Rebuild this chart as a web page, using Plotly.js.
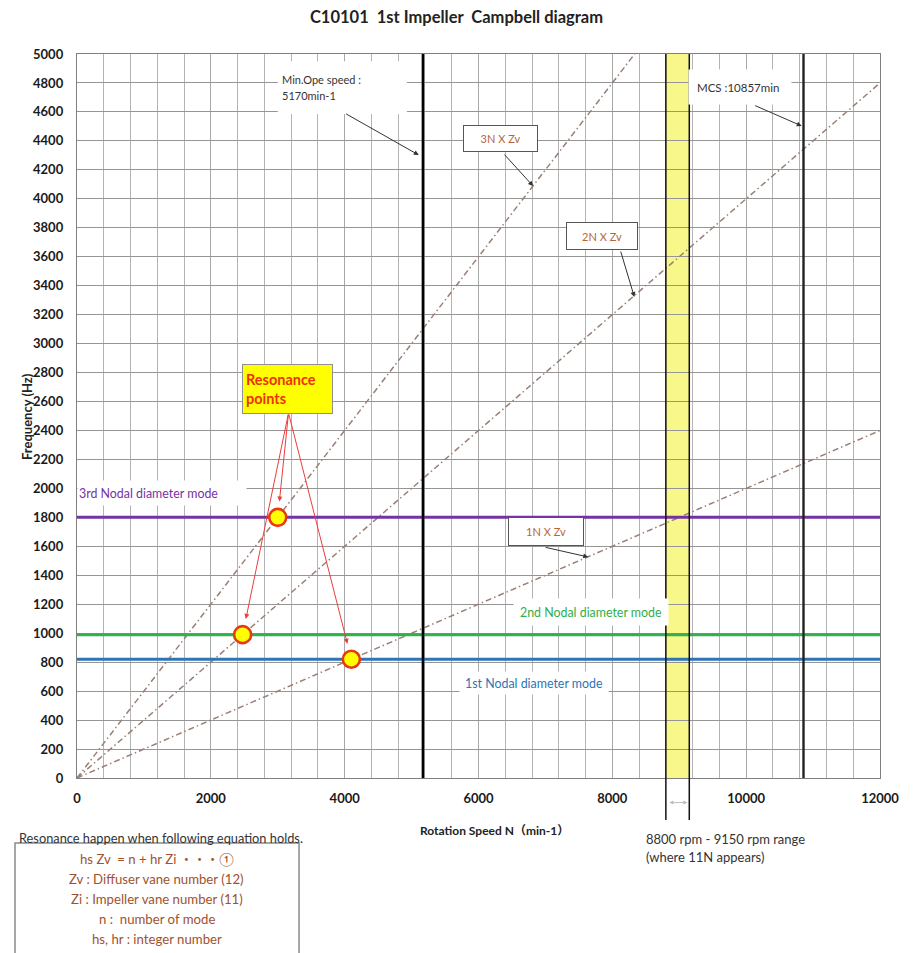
<!DOCTYPE html>
<html>
<head>
<meta charset="utf-8">
<script src="https://cdn.plot.ly/plotly-3.0.1.min.js"></script>
<style>
  html, body { margin: 0; padding: 0; background: #ffffff; }
  #chart { width: 913px; height: 953px; }
</style>
</head>
<body>
<div id="chart"></div>
<script>
// Campbell diagram of the first impeller: excitation orders vs. nodal diameter modes

// Rotation speed axis (min-1)
const speedRange = [0, 12000];
const speedTicks = [0, 2000, 4000, 6000, 8000, 10000, 12000];
const speedTickText = ['0', '2000', '4000', '6000', '8000', '10000', '12000'];
const freqRange = [0, 5000];

// Excitation order lines (frequency in Hz at the two end speeds)
const orderNames = ['3N X Zv', '2N X Zv', '1N X Zv'];
const orderSpeed = [0, 12000];
const order3Freq = [0, 7200];
const order2Freq = [0, 4800];
const order1Freq = [0, 2400];

// Natural frequencies of the nodal diameter modes (Hz)
const modeNames = ['1st Nodal diameter mode', '2nd Nodal diameter mode', '3rd Nodal diameter mode'];
const modeFreq = [820, 990, 1800];

// Crossing points (speed, frequency)
const resonanceSpeed = [2475, 3000, 4100];
const resonanceFreq = [990, 1800, 820];

// Operating limits (min-1)
const minOpeSpeed = 5170;
const mcsSpeed = 10857;
const elevenNBand = [8800, 9150];

// Notes under the chart
const noteHeader = 'Resonance happen when following equation holds.';
const noteLines = [
  'hs Zv\u00a0\u00a0= n + hr Zi \u30fb\u30fb\u30fb\u2460',
  'Zv : Diffuser vane number (12)',
  'Zi : Impeller vane number (11)',
  'n :\u00a0\u00a0number of mode',
  'hs, hr : integer number'
];
const bandNoteLines = ['8800 rpm - 9150 rpm range', '(where 11N appears)'];
const minOpeLines = ['Min.Ope speed :', '5170min-1'];

const FONT = 'Lato, "Noto Sans CJK JP", "Noto Sans", sans-serif';
const orderColor = '#9a8074';
const modeColors = ['#2e75b6', '#33b04f', '#7432a4'];

const traces = [];

[order3Freq, order2Freq, order1Freq].forEach((f, i) => {
  traces.push({
    x: orderSpeed, y: f, mode: 'lines', type: 'scatter', name: orderNames[i],
    line: { color: orderColor, width: 1.5, dash: '6px,3px,1.5px,3px' }, hoverinfo: 'skip'
  });
});

modeFreq.forEach((f, i) => {
  traces.push({
    x: speedRange, y: [f, f], mode: 'lines', type: 'scatter', name: modeNames[i],
    line: { color: modeColors[i], width: 3 }, hoverinfo: 'skip'
  });
});

traces.push({
  x: resonanceSpeed, y: resonanceFreq, mode: 'markers', type: 'scatter', name: 'Resonance points',
  marker: { size: 17, color: '#ffff00', line: { color: '#e83a10', width: 2.6 } }, hoverinfo: 'skip'
});

const shapes = [
  // 11N range band
  { type: 'rect', xref: 'x', yref: 'paper', x0: elevenNBand[0], x1: elevenNBand[1], y0: 0, y1: 1,
    fillcolor: '#f8f88a', line: { width: 0 }, layer: 'below' },
  { type: 'line', xref: 'x', yref: 'paper', x0: elevenNBand[0], x1: elevenNBand[0], y0: -0.058, y1: 1,
    line: { color: '#111', width: 1.5 } },
  { type: 'line', xref: 'x', yref: 'paper', x0: elevenNBand[1], x1: elevenNBand[1], y0: -0.058, y1: 1,
    line: { color: '#111', width: 1.5 } },
  // white patch behind the minimum speed label
  { type: 'rect', xref: 'x', yref: 'y', x0: 3000, x1: 4930, y0: 4585, y1: 4950,
    fillcolor: '#ffffff', line: { width: 0 }, layer: 'between' },
  // speed limits
  { type: 'line', xref: 'x', yref: 'paper', x0: minOpeSpeed, x1: minOpeSpeed, y0: 0, y1: 1,
    line: { color: '#000', width: 2.6 } },
  { type: 'line', xref: 'x', yref: 'paper', x0: mcsSpeed, x1: mcsSpeed, y0: 0, y1: 1,
    line: { color: '#222', width: 2.4 } },
  // note box
  { type: 'rect', xref: 'paper', yref: 'paper', x0: -0.0772, x1: 0.2765, y0: -0.0898, y1: -0.26,
    fillcolor: '#ffffff', line: { color: '#8a8a8a', width: 1.5 } }
];

const textFont = (size, color) => ({ family: FONT, size: size, color: color });
const arrow = (x, y, ax, ay, color) => ({
  xref: 'x', yref: 'y', x: x, y: y, axref: 'x', ayref: 'y', ax: ax, ay: ay, text: '',
  showarrow: true, arrowhead: 2, arrowsize: 1, arrowwidth: 1, arrowcolor: color || '#333'
});

const annotations = [
  // speed limit labels
  { xref: 'x', yref: 'y', x: 3041, y: 4827, xanchor: 'left', yanchor: 'middle', showarrow: false,
    text: minOpeLines[0], font: textFont(11, '#333') },
  { xref: 'x', yref: 'y', x: 3041, y: 4710, xanchor: 'left', yanchor: 'middle', showarrow: false,
    text: minOpeLines[1], font: textFont(11, '#333') },
  arrow(5108, 4302, 4000, 4592),
  { xref: 'x', yref: 'y', x: 9138, y: 4769, xanchor: 'left', yanchor: 'middle', showarrow: false,
    text: 'MCS :10857min', align: 'left', width: 86, height: 18, borderpad: 8,
    bgcolor: '#ffffff', font: textFont(11.5, '#333') },
  arrow(10830, 4503, 10112, 4648),

  // order labels
  { xref: 'x', yref: 'y', x: 6329, y: 4416, showarrow: false, text: orderNames[0],
    width: 71, height: 23, bgcolor: '#ffffff', bordercolor: '#555', borderwidth: 1,
    font: textFont(11, '#b5653a') },
  arrow(6816, 4088, 6367, 4316),
  { xref: 'x', yref: 'y', x: 7850, y: 3743, showarrow: false, text: orderNames[1],
    width: 68, height: 24, bgcolor: '#ffffff', bordercolor: '#555', borderwidth: 1,
    font: textFont(11, '#b5653a') },
  arrow(8329, 3322, 8119, 3646),
  { xref: 'x', yref: 'y', x: 7011, y: 1702, showarrow: false, text: orderNames[2],
    width: 72, height: 25, bgcolor: '#ffffff', bordercolor: '#555', borderwidth: 1,
    font: textFont(11, '#b5653a') },
  arrow(7640, 1526, 6981, 1595),

  // mode labels
  { xref: 'x', yref: 'y', x: 0, y: 1968, xanchor: 'left', yanchor: 'middle', showarrow: false,
    text: modeNames[2], align: 'left', width: 166, height: 22, bgcolor: '#ffffff',
    font: textFont(12.4, modeColors[2]) },
  { xref: 'x', yref: 'y', x: 7685, y: 1146, showarrow: false, text: modeNames[1],
    width: 152, height: 24, bgcolor: '#ffffff', font: textFont(12.4, '#2fae4c') },
  { xref: 'x', yref: 'y', x: 6831, y: 656, showarrow: false, text: modeNames[0],
    width: 146, height: 20, bgcolor: '#ffffff', font: textFont(12.4, '#2e75b6') },

  // resonance callout
  { xref: 'x', yref: 'y', x: 3153, y: 2686, showarrow: false, text: 'Resonance<br>points',
    align: 'left', width: 83, height: 42, borderpad: 3, bgcolor: '#ffff00', bordercolor: '#8f8f8f',
    borderwidth: 1, font: { family: FONT, size: 14.5, color: '#f0300a', weight: 'bold' } }
];

resonanceSpeed.forEach((s, i) => {
  const a = arrow(s, resonanceFreq[i], 3161, 2521, '#ee3b3b');
  a.standoff = 16;
  annotations.push(a);
});

// axis titles
annotations.push({
  xref: 'paper', yref: 'paper', x: -0.0623, y: 0.5, xanchor: 'center', yanchor: 'middle',
  textangle: -90, showarrow: false,
  text: 'Frequency (Hz)', font: { family: FONT, size: 13, color: '#222', weight: 'bold' }
});
annotations.push({
  xref: 'paper', yref: 'paper', x: 0.52, y: -0.072, xanchor: 'center', yanchor: 'middle',
  showarrow: false,
  text: 'Rotation Speed N\uff08min-1\uff09', font: { family: FONT, size: 12, color: '#222', weight: 'bold' }
});

// 11N range note under the axis
annotations.push({
  xref: 'x', yref: 'paper', x: elevenNBand[1], y: -0.034, axref: 'x', ax: elevenNBand[0], ay: 0,
  ayref: 'pixel', text: '', showarrow: true, arrowside: 'end+start', arrowhead: 2, arrowsize: 0.8,
  arrowwidth: 1, arrowcolor: '#bbbbbb', standoff: 2, startstandoff: 2
});
bandNoteLines.forEach((t, i) => {
  annotations.push({
    xref: 'x', yref: 'paper', x: 8479, y: (778 - (839 + 18 * i)) / 724, xanchor: 'left', yanchor: 'middle',
    showarrow: false, text: t, font: textFont(13, '#333')
  });
});

// equation notes
annotations.push({
  xref: 'paper', yref: 'paper', x: -0.0747, y: (778 - 838) / 724, xanchor: 'left', yanchor: 'middle',
  showarrow: false, text: noteHeader, font: textFont(12.8, '#333')
});
noteLines.forEach((t, i) => {
  annotations.push({
    xref: 'paper', yref: 'paper', x: 0.0996, y: (778 - (859 + 20 * i)) / 724, xanchor: 'center',
    yanchor: 'middle', showarrow: false, text: t, font: textFont(13.2, '#a0522d')
  });
});

const layout = {
  width: 913, height: 953,
  margin: { l: 77, r: 33, t: 54, b: 175 },
  paper_bgcolor: '#ffffff', plot_bgcolor: '#ffffff',
  showlegend: false,
  title: {
    text: '<b>C10101\u00a0\u00a01st Impeller\u00a0\u00a0Campbell diagram</b>',
    x: 0.5, xref: 'container', y: 1 - 17 / 953, yref: 'container', yanchor: 'middle',
    font: { family: FONT, size: 16.5, color: '#222' }
  },
  xaxis: {
    range: speedRange, tickvals: speedTicks, ticktext: speedTickText, ticks: '', ticklabelstandoff: 8,
    showgrid: true, gridcolor: '#a8a8a8', gridwidth: 1,
    minor: { dtick: 400, tick0: 0, showgrid: true, gridcolor: '#b4b4b4', gridwidth: 1 },
    showline: true, linecolor: '#7f7f7f', linewidth: 1.2, mirror: true, zeroline: false,
    tickfont: { family: FONT, size: 13, color: '#1a1a1a', weight: 'bold' }, fixedrange: true
  },
  yaxis: {
    range: freqRange, dtick: 200, tick0: 0, ticks: '', ticklabelstandoff: 10,
    showgrid: true, gridcolor: '#959595', gridwidth: 1,
    showline: true, linecolor: '#7f7f7f', linewidth: 1.2, mirror: true, zeroline: false,
    tickfont: { family: FONT, size: 13, color: '#1a1a1a', weight: 'bold' }, fixedrange: true
  },
  shapes: shapes,
  annotations: annotations
};

Plotly.newPlot('chart', traces, layout, { displayModeBar: false, staticPlot: true });
</script>
</body>
</html>
